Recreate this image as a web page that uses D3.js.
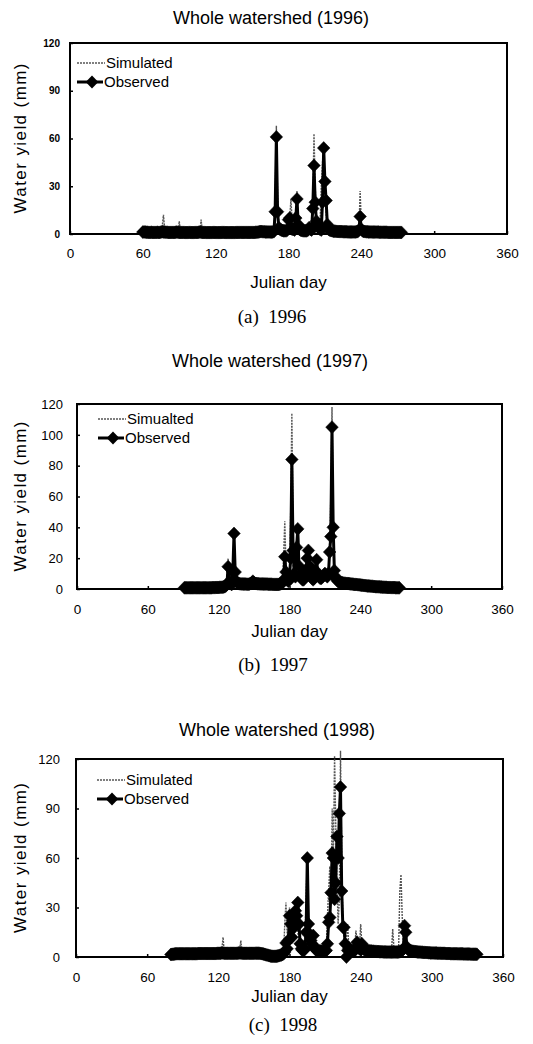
<!DOCTYPE html>
<html>
<head>
<meta charset="utf-8">
<script src="https://cdn.jsdelivr.net/npm/d3@7"></script>
<style>
  body { margin: 0; background: #fff; }
  svg { display: block; }
</style>
</head>
<body>
<svg id="chart" width="533" height="1044"></svg>
<script>
// ---- data ----
const xTicks = [0, 60, 120, 180, 240, 300, 360]
const yTicks1996 = [0, 30, 60, 90, 120]
const yTicks1997 = [0, 20, 40, 60, 80, 100, 120]
const yTicks1998 = [0, 30, 60, 90, 120]

// observed, one value per day starting at obsStart
const obsStart1996 = 60
const obs1996 = [
  1.2,1.3,1.2,1.1,1.1,1.0,1.0,1.1,1.0,1.0,
  1.0,1.0,1.1,1.0,1.0,1.2,1.4,1.3,1.2,1.1,
  1.1,1.0,1.0,1.0,1.0,1.0,1.0,1.1,1.2,1.1,
  1.0,1.0,1.0,1.0,1.0,0.9,0.9,0.9,1.0,1.0,
  0.9,0.9,0.9,1.0,1.0,1.0,1.1,1.2,1.1,1.0,
  1.0,1.0,0.9,0.9,0.9,0.9,0.9,0.9,1.0,1.0,
  0.9,0.9,0.9,0.9,0.9,1.0,1.0,1.0,0.9,0.9,
  0.9,0.9,0.9,0.9,0.9,0.9,0.9,1.0,1.0,1.0,
  1.0,1.0,1.0,1.0,1.0,1.0,1.0,1.0,1.0,1.0,
  1.0,1.0,1.0,1.1,1.1,1.2,1.4,1.5,1.5,1.4,
  1.4,1.3,1.3,1.3,1.3,1.2,1.2,1.3,1.5,14,
  61,14,4,3,2.5,2.2,2.0,2.0,2.0,2.5,
  9,10,4,3,3,2.5,10,22,6,3,
  2.5,2.2,2.0,2.0,2.0,2.0,2.5,4,3,2.5,
  16,43,20,8,5,4,3,2.5,20,54,
  33,21,6,3,2.5,2.2,2.0,1.8,1.8,1.7,
  1.6,1.6,1.5,1.5,1.5,1.4,1.4,1.4,1.4,1.3,
  1.3,1.3,1.3,1.3,1.3,1.3,1.4,1.5,2.5,11,
  3,2,1.6,1.5,1.4,1.4,1.3,1.3,1.3,1.2,
  1.2,1.2,1.2,1.2,1.2,1.1,1.1,1.1,1.1,1.1,
  1.1,1.1,1.0,1.0,1.0,1.0,1.0,1.0,1.0,1.0,
  1.0,1.0,1.0,1.0
]
const simDays1996 = [60,75,76,77,78,79,81,89,90,91,92,107,108,109,110,168,169,170,171,172,173,180,181,182,183,184,185,186,187,188,189,199,200,201,202,203,204,205,206,207,208,209,210,211,212,213,238,239,240,241,273]
const simVals1996 = [0.5,0.6,5,12,3,1,0.8,0.8,8,2,0.8,0.8,9,2,0.8,0.8,20,68,25,5,2,2,10,22,8,3,4,15,27,8,3,2,20,63,30,10,5,4,8,30,45,55,30,12,4,2,1.5,27,6,1.5,0.8]

const obsStart1997 = 91
const obs1997 = [
  0.8,0.8,0.8,0.8,0.8,0.8,0.8,0.8,0.8,
  0.8,0.8,0.8,0.8,0.8,0.8,0.8,0.8,0.8,0.8,
  0.8,0.8,0.8,0.8,0.8,0.9,0.9,0.9,1.0,1.0,
  1.0,1.1,1.1,1.2,1.3,1.5,2.0,3.0,
  14.5,5,3.5,3,11,36,11,5,4,3.5,
  3.4,3.3,3.3,3.2,3.2,3.2,3.1,3.1,3.2,3.5,
  4,5,4,3.6,3.5,3.4,3.4,3.3,3.3,3.3,
  3.2,3.2,3.2,3.2,3.1,3.1,3.1,3.1,3.0,3.0,
  3.0,3.0,3.0,3.0,3.2,3.5,4,6,
  21,11,6,5,8,20,84,25,10,8,
  27,39,15,9,7,6,6,8,12,20,
  25,15,9,7,6,7,12,19,10,8,
  7,7,8,9,10,9,8,10,24,34,
  105,40,12,8,6,5,4.5,4.2,4,4,
  3.8,3.8,3.6,3.6,3.5,3.4,3.3,3.2,3.1,3.0,
  3.0,2.9,2.8,2.7,2.6,2.5,2.4,2.3,2.2,2.1,
  2.0,2.0,1.9,1.8,1.8,1.7,1.6,1.5,1.5,1.4,
  1.4,1.3,1.3,1.2,1.2,1.1,1.1,1.0,1.0,1.0,
  0.9,0.9,0.9,0.9,0.8,0.8,0.8,0.8
]
const simDays1997 = [91,126,127,128,129,130,132,133,134,135,148,149,150,174,175,176,177,178,180,181,182,183,184,185,186,187,188,190,195,196,197,200,203,204,213,214,215,216,217,218,219,229,230,231,273]
const simVals1997 = [0.5,0.5,8,20,6,2,3,15,5,2,2,5,2,2,20,44,15,5,6,50,114,40,10,8,22,30,10,6,15,22,8,5,12,6,8,30,60,118,50,12,5,4,7,4,1]

const obsStart1998 = 80
const obs1998 = [
  1.5,1.6,1.7,1.8,1.9,2.0,2.0,2.0,2.0,2.0,
  2.0,2.0,2.0,2.0,2.0,2.0,2.0,2.0,2.0,2.0,
  2.0,2.0,2.0,2.1,2.1,2.1,2.1,2.1,2.1,2.1,
  2.1,2.1,2.1,2.1,2.1,2.1,2.1,2.1,2.1,2.2,
  2.2,2.2,2.3,2.5,2.4,2.3,2.2,2.2,2.2,2.2,
  2.2,2.2,2.2,2.2,2.2,2.2,2.3,2.4,2.5,2.4,
  2.3,2.2,2.2,2.2,2.2,2.2,2.2,2.2,2.2,2.2,
  2.2,2.3,2.3,2.3,2.3,2.2,2.1,2.0,1.8,1.6,
  1.4,1.2,1.0,0.8,0.6,0.5,0.4,0.4,0.4,0.5,
  0.6,0.8,1.0,1.2,1.5,2.0,
  3,8.5,5,10,25,20,12,22,18,28,
  25,33,20,8,5,4,4,5,15,60,
  20,14,10,8,13,6,4.5,4,4,3.8,
  3.6,3.5,3.4,3.4,3.5,4,8,
  21,24,39,63,60,35,45,73,60,87,
  103,40,18,18,8,0,4,5,4.5,4,
  4,4,4,5,9,6,5,4.5,8,5,
  4.5,4.2,4,3.9,3.8,3.7,3.6,3.5,3.5,3.4,
  3.4,3.3,3.3,3.2,3.2,3.2,3.1,3.1,3.1,3.0,
  3.0,3.0,3.0,3.0,3.0,3.0,3.0,3.0,3.0,3.1,
  3.2,3.5,4,5,19,15,6,4.5,4,3.8,
  3.6,3.5,3.4,3.3,3.2,3.1,3.0,3.0,2.9,2.9,
  2.8,2.8,2.7,2.7,2.6,2.6,2.5,2.5,2.5,2.4,
  2.4,2.4,2.3,2.3,2.3,2.2,2.2,2.2,2.2,2.1,
  2.1,2.1,2.1,2.0,2.0,2.0,2.0,2.0,2.0,1.9,
  1.9,1.9,1.9,1.9,1.8,1.8,1.8,1.8,1.8,1.8,
  1.7,1.7,1.7,1.7,1.7,1.6
]
const simDays1998 = [80,122,123,124,125,137,138,139,140,175,176,177,178,179,180,181,184,185,186,188,193,194,195,196,197,211,212,213,214,215,216,217,218,219,220,221,222,223,224,225,226,227,228,229,230,235,236,237,239,240,241,242,266,267,268,269,272,273,274,275,276,277,338]
const simVals1998 = [1,1,5,12,2,1,5,10,2,2,20,33,15,8,30,10,15,30,20,10,10,35,60,20,8,5,25,40,55,35,90,60,122,80,45,20,35,125,60,25,10,20,12,20,6,5,16,8,6,20,8,4,3,17,6,3,5,40,50,25,8,3,1]

// ---- layout ----
const panels = [
  { title: 'Whole watershed (1996)', caption: '(a)  1996', simLabel: 'Simulated',
    obsStart: obsStart1996, obs: obs1996, simDays: simDays1996, simVals: simVals1996, yTicks: yTicks1996,
    left: 70, right: 507, top: 43, bottom: 234, titleX: 271, titleY: 24, captionX: 272, captionY: 323,
    yPad: 10, yFont: 10, xPad: 14, xLabelY: 288, legX: 77, legY: 20 },
  { title: 'Whole watershed (1997)', caption: '(b)  1997', simLabel: 'Simualted',
    obsStart: obsStart1997, obs: obs1997, simDays: simDays1997, simVals: simVals1997, yTicks: yTicks1997,
    left: 77, right: 502, top: 404, bottom: 589, titleX: 270, titleY: 367, captionX: 273, captionY: 671,
    yPad: 14, yFont: 13, xPad: 15, xLabelY: 637, legX: 98, legY: 15 },
  { title: 'Whole watershed (1998)', caption: '(c)  1998', simLabel: 'Simulated',
    obsStart: obsStart1998, obs: obs1998, simDays: simDays1998, simVals: simVals1998, yTicks: yTicks1998,
    left: 76, right: 503, top: 759, bottom: 957, titleX: 277, titleY: 736, captionX: 283, captionY: 1031,
    yPad: 16, yFont: 13, xPad: 15, xLabelY: 1002, legX: 97, legY: 21 }
]

const svg = d3.select('#chart')
const sans = '"Liberation Sans", Arial, sans-serif'
const serif = '"Liberation Serif", "Times New Roman", serif'
const diamond = 'M0,-6.5L6.3,0L0,6.5L-6.3,0Z'

panels.forEach(p => {
  const g = svg.append('g')
  const x = d3.scaleLinear().domain([0, 360]).range([p.left, p.right])
  const y = d3.scaleLinear().domain([0, 120]).range([p.bottom, p.top])

  // title
  g.append('text')
    .attr('x', p.titleX).attr('y', p.titleY)
    .attr('text-anchor', 'middle')
    .style('font-family', sans).style('font-size', '18px')
    .text(p.title)

  // plot frame
  g.append('rect')
    .attr('x', p.left).attr('y', p.top)
    .attr('width', p.right - p.left).attr('height', p.bottom - p.top)
    .attr('fill', '#fff').attr('stroke', '#000').attr('stroke-width', 2)

  // simulated (thin grey, behind)
  const simPts = p.simDays.map((d, i) => [d, p.simVals[i]])
  g.append('path')
    .datum(simPts)
    .attr('fill', 'none')
    .attr('stroke', '#555')
    .attr('stroke-width', 1.4)
    .attr('stroke-dasharray', '2,1')
    .attr('d', d3.line().x(d => x(d[0])).y(d => y(d[1])))

  // observed (black line + diamonds)
  const obsPts = p.obs.map((v, i) => [p.obsStart + i, v])
  g.append('path')
    .datum(obsPts)
    .attr('fill', 'none')
    .attr('stroke', '#000')
    .attr('stroke-width', 3)
    .attr('d', d3.line().x(d => x(d[0])).y(d => y(d[1])))
  g.append('g').selectAll('path')
    .data(obsPts)
    .join('path')
    .attr('d', diamond)
    .attr('transform', d => `translate(${x(d[0])},${y(d[1])})`)
    .attr('fill', '#000')
    .attr('stroke', '#000')
    .attr('stroke-width', 0.5)

  // axes with inner ticks
  const xAxis = g.append('g')
    .attr('transform', `translate(0,${p.bottom})`)
    .call(d3.axisBottom(x).tickValues(xTicks).tickSizeInner(-3).tickSizeOuter(0).tickPadding(p.xPad))
  const yAxis = g.append('g')
    .attr('transform', `translate(${p.left},0)`)
    .call(d3.axisLeft(y).tickValues(p.yTicks).tickSizeInner(-3).tickSizeOuter(0).tickPadding(p.yPad))
  ;[xAxis, yAxis].forEach(a => {
    a.select('.domain').remove()
    a.selectAll('line').attr('stroke', '#000').attr('stroke-width', 1.5)
    a.selectAll('text').style('font-family', sans).attr('fill', '#000')
  })
  xAxis.selectAll('text').style('font-size', '13.5px')
  yAxis.selectAll('text').style('font-size', p.yFont + 'px').style('font-weight', p.yFont < 12 ? 'bold' : 'normal')

  // axis titles
  g.append('text')
    .attr('x', (p.left + p.right) / 2).attr('y', p.xLabelY)
    .attr('text-anchor', 'middle')
    .style('font-family', sans).style('font-size', '17px')
    .text('Julian day')
  g.append('text')
    .attr('transform', `translate(26,${(p.top + p.bottom) / 2}) rotate(-90)`)
    .attr('text-anchor', 'middle')
    .attr('textLength', 150).attr('lengthAdjust', 'spacing')
    .style('font-family', sans).style('font-size', '17px')
    .text('Water yield (mm)')

  // legend
  const ly1 = p.top + p.legY, ly2 = ly1 + 19
  g.append('line')
    .attr('x1', p.legX).attr('x2', p.legX + 28).attr('y1', ly1).attr('y2', ly1)
    .attr('stroke', '#555').attr('stroke-width', 1.3).attr('stroke-dasharray', '2,1')
  g.append('text')
    .attr('x', p.legX + 29).attr('y', ly1 + 5)
    .style('font-family', sans).style('font-size', '15px')
    .text(p.simLabel)
  g.append('line')
    .attr('x1', p.legX).attr('x2', p.legX + 26).attr('y1', ly2).attr('y2', ly2)
    .attr('stroke', '#000').attr('stroke-width', 3)
  g.append('path')
    .attr('d', diamond)
    .attr('transform', `translate(${p.legX + 15},${ly2})`)
    .attr('fill', '#000')
  g.append('text')
    .attr('x', p.legX + 27).attr('y', ly2 + 5)
    .style('font-family', sans).style('font-size', '15px')
    .text('Observed')

  // caption under the panel
  g.append('text')
    .attr('x', p.captionX).attr('y', p.captionY)
    .attr('text-anchor', 'middle')
    .style('font-family', serif).style('font-size', '19px')
    .style('white-space', 'pre')
    .text(p.caption)
})
</script>
</body>
</html>
